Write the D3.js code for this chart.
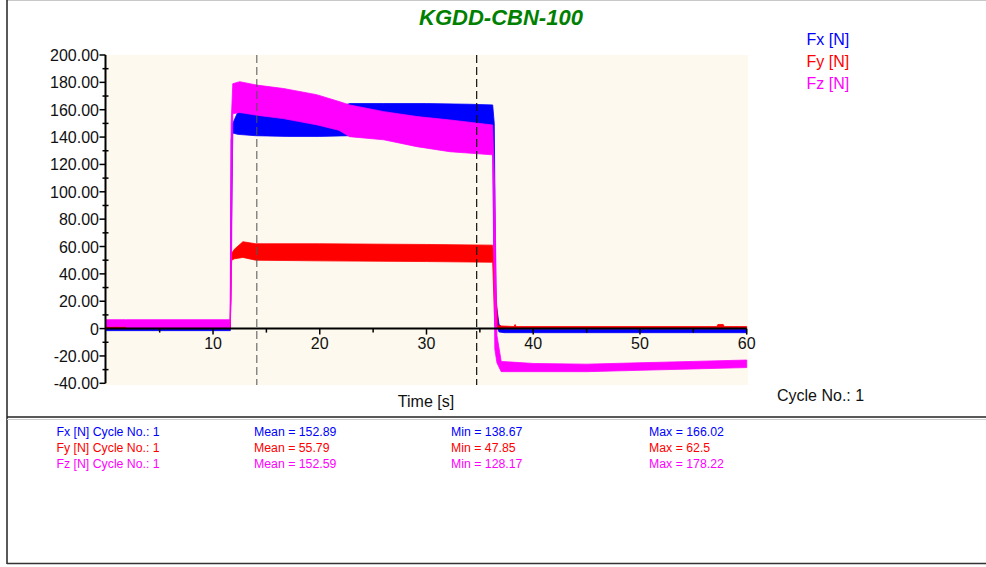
<!DOCTYPE html>
<html>
<head>
<meta charset="utf-8">
<script src="https://cdn.jsdelivr.net/npm/d3@7"></script>
<style>
    body { margin: 0; background: #fff; }
    svg { display: block; font-family: "Liberation Sans", Arial, sans-serif; }
    .tickLabel { font-size: 16px; fill: #111; }
    #chartTitle { font-size: 22px; font-weight: bold; font-style: italic; fill: #008000; }
    .stats text { font-size: 12.3px; }
</style>
</head>
<body>
<script>
'use strict';

// band envelopes: [time s, low N, high N]
const fxBand = [
    [0, -1.5, 1], [11.62, -1.5, 1], [11.7, 60, 138], [11.85, 143, 150],
    [12.3, 142, 158], [14, 141, 157], [17, 140.5, 156], [20, 140.5, 157],
    [22.8, 141, 164.5], [26, 141.5, 164.5], [30, 142, 164.5], [34, 142.5, 164],
    [36.2, 143, 163.5], [36.35, 30, 150], [36.5, 3, 20], [36.8, -2.5, 3],
    [37.3, -3, -0.5], [60, -3, -0.5]
];
const fyBand = [
    [0, 0, 1.8], [1.8, 0, 1.8], [1.9, 0, 1], [11.6, 0, 1], [11.7, 40, 52],
    [11.75, 50, 55], [12, 51, 58], [12.8, 52, 63.5], [14, 50, 62],
    [20, 49.5, 62], [30, 49, 61.5], [36.2, 48.5, 61], [36.4, 2, 40],
    [36.7, 0.3, 2], [38.2, 0.3, 1.5], [38.3, 0.3, 3], [38.4, 0.3, 1.5],
    [57.2, 0.3, 1.5], [57.3, 0.3, 3], [57.8, 0.3, 3], [57.9, 0.3, 1.5], [60, 0.3, 1.5]
];
const fzBand = [
    [0, 1.5, 6.5], [1.8, 1.5, 6.5], [1.9, 0.6, 6.5], [11.6, 0.6, 6.5],
    [11.7, 20, 150], [11.85, 157, 179], [12.5, 158, 180.5], [14.1, 156, 178],
    [16.6, 153.5, 175.5], [19.7, 149, 171], [21.8, 145, 166], [22.8, 140.3, 163.5],
    [26, 138, 158.6], [29.1, 133, 155], [32.2, 129.3, 152.5], [36.2, 127, 148.8],
    [36.4, -15, 100], [36.6, -25, -5], [37, -31.5, -24], [40, -31.5, -25.5],
    [45, -31.5, -26], [50, -30.5, -25], [55, -29.5, -24], [60, -28.5, -23]
];

const seriesNames = ['Fx [N]', 'Fy [N]', 'Fz [N]'];
const seriesColors = ['#0000ff', '#ff0000', '#ff00ff'];
const statMean = [152.89, 55.79, 152.59];
const statMin = [138.67, 47.85, 128.17];
const statMax = [166.02, 62.5, 178.22];

const xMajorTicks = [10, 20, 30, 40, 50, 60];
const xMinorTicks = [5, 15, 25, 35, 45, 55];
const yMajorTicks = [-40, -20, 0, 20, 40, 60, 80, 100, 120, 140, 160, 180, 200];
const yMinorTicks = [-30, -10, 10, 30, 50, 70, 90, 110, 130, 150, 170, 190];
const cursorTimes = [14.1, 34.7];

(function () {

    // plain hyphen for negative tick labels, as in the original
    const fmt = d3.formatLocale({ decimal: '.', thousands: ',', grouping: [3], currency: ['', ''], minus: '-' }).format('.2f');

    function getPlotArea() {
        return {
            svg: { width: 986, height: 567 },
            left: 106.3, right: 746.7,
            top: 55, bottom: 383.3
        };
    }

    function makeScales(plot) {
        return {
            x: d3.scaleLinear().domain([0, 60]).range([plot.left, plot.right]),
            y: d3.scaleLinear().domain([-40, 200]).range([plot.bottom, plot.top])
        };
    }

    /**
     * Outer frame lines and the separator above the statistics block.
     */
    function appendFrame(svg) {
        const g = svg.append('g').attr('class', 'frame');
        g.append('line').attr('x1', 7).attr('x2', 986).attr('y1', 0.5).attr('y2', 0.5)
            .attr('stroke', '#c8c8c8').attr('stroke-width', 1);
        g.append('line').attr('x1', 7).attr('x2', 7).attr('y1', 0).attr('y2', 564)
            .attr('stroke', '#222').attr('stroke-width', 1.5);
        g.append('line').attr('x1', 7).attr('x2', 986).attr('y1', 417).attr('y2', 417)
            .attr('stroke', '#222').attr('stroke-width', 1.5);
        g.append('line').attr('x1', 7).attr('x2', 986).attr('y1', 419.5).attr('y2', 419.5)
            .attr('stroke', '#ccc').attr('stroke-width', 1);
        g.append('line').attr('x1', 7).attr('x2', 986).attr('y1', 563.5).attr('y2', 563.5)
            .attr('stroke', '#333').attr('stroke-width', 1.5);
    }

    function appendBackground(svg, plot) {
        svg.append('rect')
            .attr('x', plot.left)
            .attr('y', plot.top)
            .attr('width', 748 - plot.left)
            .attr('height', 385 - plot.top)
            .attr('fill', '#fdf9ee');
    }

    /**
     * Each signal is a dense noisy trace, drawn as its low/high envelope.
     */
    function appendBands(svg, scales) {
        const area = d3.area()
            .x(d => scales.x(d[0]))
            .y0(d => scales.y(d[1]))
            .y1(d => scales.y(d[2]));
        const bands = [fxBand, fyBand, fzBand];
        svg.append('g')
            .attr('class', 'bands')
            .selectAll('path')
            .data(bands)
            .enter()
            .append('path')
            .attr('d', area)
            .attr('fill', (d, i) => seriesColors[i])
            .attr('stroke', (d, i) => seriesColors[i])
            .attr('stroke-width', 0.8);
    }

    function appendCursors(svg, scales, plot) {
        svg.append('g')
            .attr('class', 'cursors')
            .selectAll('line')
            .data(cursorTimes)
            .enter()
            .append('line')
            .attr('x1', d => scales.x(d))
            .attr('x2', d => scales.x(d))
            .attr('y1', plot.top)
            .attr('y2', 385)
            .attr('stroke', (d, i) => i === 0 ? '#555' : '#111')
            .attr('stroke-opacity', (d, i) => i === 0 ? 0.85 : 1)
            .attr('stroke-width', 1.2)
            .attr('stroke-dasharray', '8,4');
    }

    function appendXAxis(svg, scales) {
        const y0 = scales.y(0);
        const g = svg.append('g').attr('class', 'xAxis');
        g.append('line')
            .attr('x1', scales.x(0)).attr('x2', scales.x(60))
            .attr('y1', y0).attr('y2', y0)
            .attr('stroke', '#000').attr('stroke-width', 2);
        g.selectAll('.major').data(xMajorTicks).enter().append('line')
            .attr('x1', d => scales.x(d)).attr('x2', d => scales.x(d))
            .attr('y1', y0).attr('y2', y0 + 6)
            .attr('stroke', '#000').attr('stroke-width', 1.5);
        g.selectAll('.minor').data(xMinorTicks).enter().append('line')
            .attr('x1', d => scales.x(d)).attr('x2', d => scales.x(d))
            .attr('y1', y0).attr('y2', y0 + 4)
            .attr('stroke', '#000').attr('stroke-width', 1.5);
        g.selectAll('text').data(xMajorTicks).enter().append('text')
            .attr('class', 'tickLabel')
            .attr('x', d => scales.x(d))
            .attr('y', y0 + 20.5)
            .attr('text-anchor', 'middle')
            .text(d => d);
    }

    function appendYAxis(svg, scales, plot) {
        const x0 = plot.left - 0.8;
        const g = svg.append('g').attr('class', 'yAxis');
        g.append('line')
            .attr('x1', x0).attr('x2', x0)
            .attr('y1', scales.y(200)).attr('y2', scales.y(-40))
            .attr('stroke', '#000').attr('stroke-width', 2);
        g.selectAll('.major').data(yMajorTicks).enter().append('line')
            .attr('x1', x0 - 6).attr('x2', x0)
            .attr('y1', d => scales.y(d)).attr('y2', d => scales.y(d))
            .attr('stroke', '#000').attr('stroke-width', 1.5);
        g.selectAll('.minor').data(yMinorTicks).enter().append('line')
            .attr('x1', x0 - 3).attr('x2', x0 + 3)
            .attr('y1', d => scales.y(d)).attr('y2', d => scales.y(d))
            .attr('stroke', '#000').attr('stroke-width', 1.5);
        g.selectAll('text').data(yMajorTicks).enter().append('text')
            .attr('class', 'tickLabel')
            .attr('x', 99)
            .attr('y', d => scales.y(d) + 6)
            .attr('text-anchor', 'end')
            .text(d => d === 0 ? '0' : fmt(d));
    }

    function appendTitles(svg) {
        svg.append('text')
            .attr('id', 'chartTitle')
            .attr('x', 501)
            .attr('y', 25)
            .attr('text-anchor', 'middle')
            .text('KGDD-CBN-100');
        svg.append('text')
            .attr('class', 'tickLabel')
            .attr('x', 426)
            .attr('y', 407)
            .attr('text-anchor', 'middle')
            .text('Time [s]');
        svg.append('text')
            .attr('class', 'tickLabel')
            .attr('x', 777)
            .attr('y', 400.5)
            .text('Cycle No.: 1');
    }

    function appendLegend(svg) {
        svg.append('g')
            .attr('class', 'legend')
            .selectAll('text')
            .data(seriesNames)
            .enter()
            .append('text')
            .attr('x', 806.5)
            .attr('y', (d, i) => 44.6 + i * 22.2)
            .attr('font-size', '16px')
            .attr('fill', (d, i) => seriesColors[i])
            .text(d => d);
    }

    /**
     * Statistics block below the chart: one row per signal.
     */
    function appendStats(svg) {
        const rows = svg.append('g')
            .attr('class', 'stats')
            .selectAll('g')
            .data(seriesNames)
            .enter()
            .append('g')
            .attr('transform', (d, i) => 'translate(0,' + (436 + i * 16) + ')')
            .attr('fill', (d, i) => seriesColors[i]);
        rows.append('text').attr('x', 56.5).text(d => d + ' Cycle No.: 1');
        rows.append('text').attr('x', 254).text((d, i) => 'Mean = ' + statMean[i]);
        rows.append('text').attr('x', 451).text((d, i) => 'Min = ' + statMin[i]);
        rows.append('text').attr('x', 649).text((d, i) => 'Max = ' + statMax[i]);
    }

    function draw() {
        const plot = getPlotArea();
        const svg = d3.select('body').append('svg')
            .attr('width', plot.svg.width)
            .attr('height', plot.svg.height);
        const scales = makeScales(plot);
        appendFrame(svg);
        appendBackground(svg, plot);
        appendBands(svg, scales);
        appendCursors(svg, scales, plot);
        appendXAxis(svg, scales);
        appendYAxis(svg, scales, plot);
        appendTitles(svg);
        appendLegend(svg);
        appendStats(svg);
    }

    window.onload = draw;

})();
</script>
</body>
</html>
